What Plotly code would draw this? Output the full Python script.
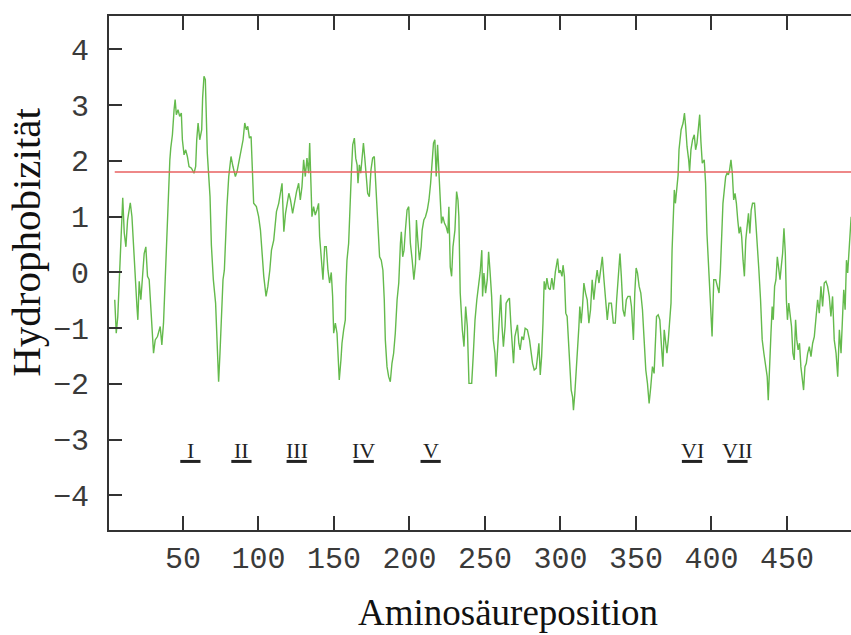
import plotly.graph_objects as go

# --- data ---
position = [4.8,5.8,6.8,7.9,9.0,10.1,11.1,12.2,13.3,15.1,16.2,17.3,18.4,19.5,20.1,21.0,22.1,23.2,24.3,25.4,26.5,27.6,28.7,29.8,30.5,31.6,33.1,34.9,36.0,37.1,38.0,39.1,39.7,40.4,41.3,41.9,43.0,44.1,44.8,45.6,46.7,47.8,48.9,49.6,50.7,51.8,52.9,54.0,55.6,57.3,58.4,59.1,60.0,61.1,62.4,63.0,63.9,64.8,65.3,66.1,67.0,67.9,68.8,70.1,71.6,72.7,73.6,74.5,75.6,76.5,77.4,78.3,79.1,80.3,81.8,83.1,84.7,85.8,86.9,88.4,89.8,90.9,92.0,92.9,94.0,95.1,95.9,96.8,98.6,100.1,101.3,102.4,103.5,105.0,106.2,107.5,108.6,110.1,111.9,113.4,114.5,115.6,116.8,117.9,120.1,121.2,122.6,123.9,125.2,126.6,127.7,128.8,129.9,131.0,132.1,133.2,133.9,134.8,135.4,136.5,137.6,138.7,139.8,140.5,141.6,142.7,143.8,144.9,146.0,147.1,148.2,149.1,149.8,150.9,152.0,152.6,153.5,154.6,155.3,156.4,157.5,157.9,158.6,159.7,160.4,161.0,161.5,162.4,163.5,164.4,165.3,165.9,166.8,167.7,168.6,169.5,170.4,171.2,172.3,173.4,174.5,175.6,176.7,177.4,178.5,179.6,180.2,181.3,182.4,183.3,184.0,185.1,186.2,187.3,188.4,189.5,190.6,191.8,192.9,194.0,194.6,195.5,196.4,197.3,198.4,199.5,200.6,201.8,202.9,204.0,204.6,205.5,206.6,207.7,208.4,209.5,210.6,211.8,212.9,214.0,215.1,215.9,216.8,217.7,218.6,219.5,220.4,221.2,222.1,223.2,224.3,225.4,226.1,227.0,227.9,228.8,230.1,231.2,232.1,232.7,233.6,235.0,236.1,237.2,238.3,239.4,241.2,242.3,243.4,244.6,245.7,246.8,247.9,248.4,249.3,250.4,251.5,252.4,253.3,254.4,255.5,256.6,257.3,258.2,259.3,260.4,261.3,262.2,263.3,264.0,265.3,266.2,267.1,268.0,268.9,269.8,270.6,271.5,272.4,273.3,274.4,275.5,276.6,278.1,279.5,280.4,281.5,282.6,283.9,284.8,285.7,286.6,287.5,288.4,289.2,290.1,291.0,292.1,293.2,294.3,295.4,296.6,298.1,299.0,299.9,301.0,301.7,302.6,303.5,304.4,305.3,306.2,307.1,308.0,308.6,309.5,310.4,311.3,312.2,312.8,313.7,314.6,315.5,316.6,317.7,318.8,319.9,321.0,322.1,323.2,324.3,325.5,326.6,327.7,328.8,329.9,331.0,332.1,333.7,335.0,336.3,337.2,338.3,339.4,340.3,341.4,342.5,343.6,344.7,346.1,347.0,347.6,348.3,349.2,350.1,351.0,352.1,353.2,354.3,355.4,356.5,357.6,358.7,359.8,360.9,362.0,362.7,363.6,364.7,365.8,366.9,367.8,368.7,369.6,370.5,371.4,372.3,373.2,373.9,374.5,375.4,376.1,377.2,377.9,378.5,379.9,381.2,382.1,382.9,383.8,384.9,385.5,386.4,387.5,388.6,389.5,390.4,391.3,392.2,393.0,393.9,395.2,396.1,397.0,397.9,399.2,400.4,401.5,402.8,404.1,405.0,405.9,406.8,407.6,408.5,409.4,410.3,411.2,412.0,412.9,413.8,414.7,415.6,416.5,417.4,418.3,419.2,420.0,420.9,421.8,422.7,423.6,424.5,425.4,426.3,427.2,428.5,429.4,430.3,431.4,432.5,433.6,434.7,435.8,436.9,437.6,438.5,439.4,440.2,440.9,441.8,442.7,443.6,444.5,445.4,446.2,447.1,448.0,448.9,449.6,450.3,451.2,452.1,453.0,453.9,454.8,455.7,456.5,457.4,458.3,459.2,460.1,461.0,461.9,462.8,463.7,464.8,465.9,467.0,468.1,469.2,470.3,471.4,472.5,473.6,474.7,475.8,476.9,478.0,479.1,480.2,481.3,482.5,483.6,484.7,485.8,486.9,487.6,488.5,489.4,490.2,491.4,492.5]

hydrophobicity = [-0.49,-1.09,-0.80,-0.13,0.71,1.34,0.71,0.46,0.94,1.25,1.00,0.37,0.00,-0.61,-0.85,-0.16,-0.49,-0.07,0.34,0.46,-0.07,-0.13,-0.64,-1.15,-1.45,-1.21,-1.15,-0.97,-1.30,-0.91,-0.25,0.46,1.06,1.57,2.02,2.23,2.47,2.92,3.10,2.83,2.92,2.80,2.86,2.38,2.11,2.20,2.08,1.90,1.87,1.78,1.90,2.38,2.68,2.38,2.56,3.13,3.52,3.46,2.86,2.14,1.75,1.36,0.49,-0.13,-0.55,-1.45,-1.96,-1.45,-0.61,-0.13,0.04,0.73,1.18,1.72,2.08,1.90,1.72,1.81,1.96,2.20,2.38,2.68,2.56,2.62,2.41,2.44,1.78,1.24,1.18,1.00,0.76,0.34,-0.07,-0.43,-0.25,0.04,0.40,0.58,1.09,1.24,1.42,1.60,0.73,1.06,1.42,1.30,1.06,1.30,1.45,1.60,1.30,1.54,2.02,1.72,2.05,1.78,2.32,1.54,1.00,1.18,1.03,1.12,1.24,0.64,0.16,-0.13,0.46,0.46,0.04,-0.19,0.00,-0.43,-1.09,-0.91,-1.09,-1.45,-1.93,-1.57,-1.27,-1.03,-0.85,-0.25,0.22,0.52,1.12,1.30,1.78,2.29,2.41,2.05,1.93,1.60,1.93,1.78,2.05,2.32,2.05,1.78,1.42,1.36,1.84,2.05,2.08,1.72,1.18,0.82,0.28,0.22,0.04,-0.49,-1.21,-1.69,-1.87,-1.96,-1.63,-1.45,-1.09,-0.49,-0.19,0.52,0.73,0.28,0.40,0.76,1.12,1.18,0.52,0.22,-0.13,0.16,0.94,0.58,0.22,0.46,0.76,0.94,1.00,1.12,1.30,1.60,2.02,2.32,2.38,1.72,2.29,1.66,1.30,0.88,1.00,0.88,0.82,0.70,1.18,0.10,-0.07,0.46,0.76,1.45,1.30,1.00,-0.37,-1.03,-1.33,-0.61,-0.97,-1.99,-1.99,-1.45,-0.85,-0.49,-0.25,0.00,0.40,-0.43,-0.01,-0.37,-0.13,0.37,0.04,-0.43,-1.21,-1.45,-1.87,-1.39,-0.73,-0.40,-0.97,-1.33,-0.97,-0.55,-0.49,-0.46,-0.91,-1.27,-1.63,-1.15,-1.03,-0.94,-1.27,-1.39,-1.15,-1.21,-1.00,-1.03,-1.21,-1.45,-1.63,-1.75,-1.72,-1.51,-1.27,-1.84,-1.51,-0.91,-0.16,-0.31,-0.10,-0.28,-0.31,-0.10,-0.31,0.01,0.25,-0.01,0.04,-0.07,0.13,-0.07,-0.73,-0.79,-1.21,-1.75,-2.11,-2.23,-2.47,-2.17,-1.81,-1.33,-0.97,-0.61,-0.91,-0.61,-0.19,-0.37,-0.49,-0.91,-0.67,-0.13,-0.49,-0.19,0.04,-0.19,0.10,0.28,-0.13,-0.55,-0.85,-0.55,-0.55,-0.91,-0.91,-0.49,0.04,0.34,-0.07,-0.67,-0.79,-0.49,-0.43,-0.43,-0.61,-0.85,-1.21,-0.37,0.08,-0.01,-0.25,-0.37,-0.67,-1.21,-1.75,-1.99,-2.35,-2.05,-1.69,-1.81,-1.33,-0.79,-0.76,-0.85,-1.33,-1.69,-1.03,-1.27,-1.45,-1.21,-0.79,-0.55,0.40,1.00,1.48,1.24,1.54,1.75,2.20,2.56,2.68,2.86,2.62,2.26,2.02,1.81,2.20,2.38,2.47,2.20,2.32,2.53,2.83,2.35,1.96,2.02,1.60,0.70,0.10,-0.49,-1.15,-0.13,-0.13,-0.25,-0.37,0.04,0.82,1.24,1.48,1.72,1.78,1.75,1.84,2.02,1.78,1.30,1.42,1.24,0.94,0.70,0.82,0.64,0.22,-0.07,0.58,0.88,1.06,0.70,1.12,1.24,1.24,0.88,0.40,0.04,-0.49,-1.21,-1.45,-1.69,-1.87,-2.29,-1.81,-1.09,-0.61,-0.85,-0.25,-0.13,0.28,0.04,-0.13,0.10,0.34,0.79,0.34,-0.49,-0.85,-0.55,-0.73,-0.97,-1.45,-1.57,-0.85,-1.21,-1.39,-1.27,-1.69,-1.93,-2.11,-1.69,-1.63,-1.45,-1.33,-1.51,-1.27,-1.15,-0.85,-0.49,-0.73,-0.25,-0.61,-0.19,-0.16,-0.25,-0.43,-0.79,-0.43,-1.21,-1.45,-1.87,-1.03,-1.45,-0.73,-0.31,-0.67,0.22,-0.01,0.58,1.00]

threshold = 1.8

segment_labels = ["I", "II", "III", "IV", "V", "VI", "VII"]
segment_centers = [54.9, 88.7, 125.3, 169.7, 214.0, 387.1, 417.2]

x_ticks = [50, 100, 150, 200, 250, 300, 350, 400, 450]
y_ticks = [-4, -3, -2, -1, 0, 1, 2, 3, 4]

fig = go.Figure()
fig.add_trace(go.Scatter(x=position, y=hydrophobicity, mode="lines",
                         line=dict(color="rgb(100,186,76)", width=1.4),
                         hoverinfo="skip"))
fig.add_trace(go.Scatter(x=[position[0], position[-1]], y=[threshold, threshold],
                         mode="lines", line=dict(color="rgb(232,96,96)", width=1.5),
                         hoverinfo="skip"))

serif = "Liberation Serif, Times New Roman, serif"
mono = "Liberation Mono, DejaVu Sans Mono, monospace"

annotations = []
shapes = []
half_w = 6.7
for lab, c in zip(segment_labels, segment_centers):
    annotations.append(dict(x=c, y=-3.2, xref="x", yref="y", text=lab,
                            showarrow=False, xanchor="center", yanchor="middle",
                            font=dict(family=serif, size=22, color="#222")))
    shapes.append(dict(type="line", xref="x", yref="y", x0=c - half_w, x1=c + half_w,
                       y0=-3.39, y1=-3.39, line=dict(color="#222", width=3)))

annotations.append(dict(x=-0.111, y=0.56, xref="paper", yref="paper",
                        text="Hydrophobizität", textangle=-90, showarrow=False,
                        xanchor="center", yanchor="middle",
                        font=dict(family=serif, size=41, color="#111")))
annotations.append(dict(x=0.538, y=-0.16, xref="paper", yref="paper",
                        text="Aminosäureposition", showarrow=False,
                        xanchor="center", yanchor="middle",
                        font=dict(family=serif, size=37, color="#111")))

fig.update_layout(
    width=851, height=635,
    margin=dict(l=109, r=0, t=16, b=105),
    paper_bgcolor="white", plot_bgcolor="white",
    showlegend=False,
    annotations=annotations, shapes=shapes,
    xaxis=dict(range=[1, 492.4], tickvals=x_ticks, ticks="inside", ticklen=14,
               tickwidth=1.5, tickcolor="#333", showline=True, linecolor="#333",
               linewidth=2, mirror="ticks", showgrid=False, zeroline=False,
               ticklabelstandoff=0,
               tickfont=dict(family=mono, size=30, color="#3a3a3a")),
    yaxis=dict(range=[-4.62, 4.6], tickvals=y_ticks, ticks="inside", ticklen=13,
               tickwidth=1.5, tickcolor="#333", showline=True, linecolor="#333",
               linewidth=2, mirror=False, showgrid=False, zeroline=False,
               ticklabelstandoff=12,
               tickfont=dict(family=mono, size=30, color="#3a3a3a")),
)

fig.write_html("out.html")
